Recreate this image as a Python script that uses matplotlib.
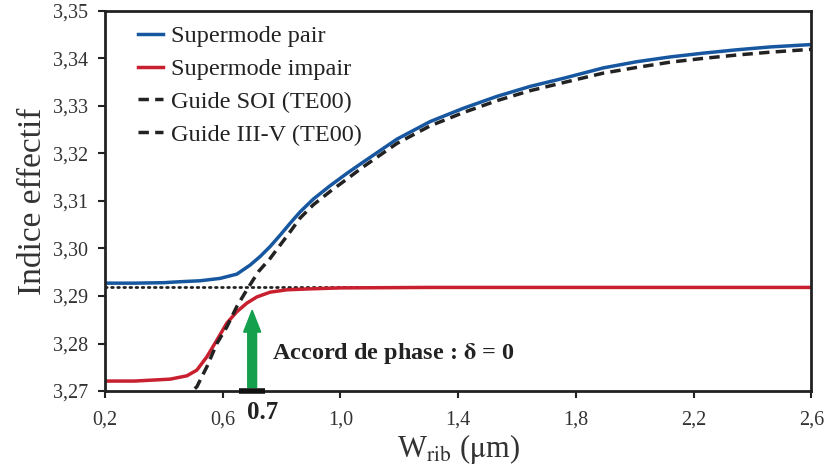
import matplotlib
matplotlib.use("Agg")
from matplotlib import pyplot as plt
from matplotlib.lines import Line2D

plt.rcParams['font.family'] = ['Liberation Serif', 'DejaVu Serif']
plt.rcParams['mathtext.fontset'] = 'stix'

# Supermode pair (blue)
w_pair = [0.2, 0.3, 0.4, 0.455, 0.523, 0.591, 0.648, 0.693, 0.727, 0.761, 0.795, 0.829,
          0.863, 0.908, 0.965, 1.022, 1.078, 1.192, 1.305, 1.418, 1.532, 1.645, 1.758,
          1.894, 2.008, 2.121, 2.234, 2.347, 2.461, 2.6]
n_pair = [3.2927, 3.2927, 3.2928, 3.2930, 3.2932, 3.2937, 3.2946, 3.2965, 3.2983, 3.3004,
          3.3028, 3.3053, 3.3077, 3.3104, 3.3132, 3.3158, 3.3182, 3.3230, 3.3267, 3.3295,
          3.3320, 3.3341, 3.3358, 3.3380, 3.3393, 3.3403, 3.3411, 3.3418, 3.3424, 3.3429]

# Supermode impair (red)
w_impair = [0.2, 0.3, 0.421, 0.478, 0.512, 0.546, 0.580, 0.614, 0.648, 0.682, 0.716,
            0.761, 0.818, 0.897, 1.0, 1.3, 1.8, 2.6]
n_impair = [3.2721, 3.2721, 3.2725, 3.2732, 3.2744, 3.2772, 3.2807, 3.2843, 3.2867,
            3.2885, 3.2898, 3.2908, 3.2913, 3.2915, 3.2917, 3.2918, 3.2918, 3.2918]

# Guide SOI (TE00)
w_soi = [0.505, 0.512, 0.546, 0.580, 0.614, 0.648, 0.682, 0.721, 0.761, 0.795, 0.829,
         0.863, 0.908, 0.965, 1.022, 1.078, 1.192, 1.305, 1.418, 1.532, 1.645, 1.758,
         1.894, 2.008, 2.121, 2.234, 2.347, 2.461, 2.6]
n_soi = [3.2705, 3.2709, 3.2751, 3.2800, 3.2835, 3.2878, 3.2913, 3.2951, 3.2979, 3.3007,
         3.3035, 3.3064, 3.3092, 3.3120, 3.3146, 3.3172, 3.3221, 3.3258, 3.3286, 3.3311,
         3.3332, 3.3349, 3.3369, 3.3381, 3.3392, 3.3400, 3.3407, 3.3413, 3.3419]

# Guide III-V (TE00)
w_iiiv = [0.2, 2.6]
n_iiiv = [3.2918, 3.2918]

x_ticks = [0.2, 0.6, 1.0, 1.4, 1.8, 2.2, 2.6]
x_labels = ['0,2', '0,6', '1,0', '1,4', '1,8', '2,2', '2,6']
y_ticks = [3.27, 3.28, 3.29, 3.30, 3.31, 3.32, 3.33, 3.34, 3.35]
y_labels = ['3,27', '3,28', '3,29', '3,30', '3,31', '3,32', '3,33', '3,34', '3,35']

fig = plt.figure(figsize=(8.27, 4.70), dpi=100)
ax = fig.add_axes([0.127, 0.168, 0.854, 0.809])

ax.plot(w_iiiv, n_iiiv, color='#222222', lw=2, linestyle=(0, (0.6, 1.6)), dash_capstyle='round')
ax.plot(w_impair, n_impair, color='#c8202f', lw=2.5)
ax.plot(w_pair, n_pair, color='#1657a0', lw=2.5)
ax.plot(w_soi, n_soi, color='#222222', lw=2.5, linestyle=(0, (3, 1.8)))

# phase matching arrow
ax.plot([0.655, 0.745], [3.27, 3.27], color='#111111', lw=4, solid_capstyle='butt',
        clip_on=False, zorder=5)
ax.arrow(0.7, 3.2707, 0, 0.0163, width=0.03, head_width=0.058, head_length=0.0046,
         length_includes_head=True, color='#14a04c', zorder=4)
ax.text(0.768, 3.2779, r'Accord de phase : $\mathbf{\delta}$ = 0', fontsize=17.5,
        fontweight='bold', va='center', ha='left', color='#222222')
ax.text(0.735, 3.2655, '0.7', fontsize=18, fontweight='bold', ha='center', va='center',
        color='#222222')

ax.set_xlim(0.2, 2.6)
ax.set_ylim(3.27, 3.35)
ax.set_xticks(x_ticks)
ax.set_xticklabels(x_labels)
ax.set_yticks(y_ticks)
ax.set_yticklabels(y_labels)
ax.tick_params(labelsize=14.5, width=1.5, length=5, color='#222222', labelcolor='#333333')
ax.tick_params(axis='x', pad=9)
ax.tick_params(axis='y', pad=7)
for s in ax.spines.values():
    s.set_linewidth(2)
    s.set_color('#222222')

ax.set_xlabel(r'W$_{\mathrm{rib}}$ ($\mathrm{\mu}$m)', fontsize=22, color='#333333', labelpad=2)
ax.set_ylabel('Indice effectif', fontsize=24, color='#333333', labelpad=4)

handles = [
    Line2D([], [], color='#1657a0', lw=2.5),
    Line2D([], [], color='#c8202f', lw=2.5),
    Line2D([], [], color='#222222', lw=2.5, linestyle=(0, (3, 1.8))),
    Line2D([], [], color='#222222', lw=2.5, linestyle=(0, (3, 1.8))),
]
labels = ['Supermode pair', 'Supermode impair', 'Guide SOI (TE00)', 'Guide III-V (TE00)']
leg = ax.legend(handles, labels, loc='upper left', bbox_to_anchor=(0.016, 1.02), frameon=False,
                fontsize=17.5, handlelength=1.0, handletextpad=0.35, labelspacing=0.45)
for t in leg.get_texts():
    t.set_color('#222222')

fig.savefig('out.png', dpi=100)
